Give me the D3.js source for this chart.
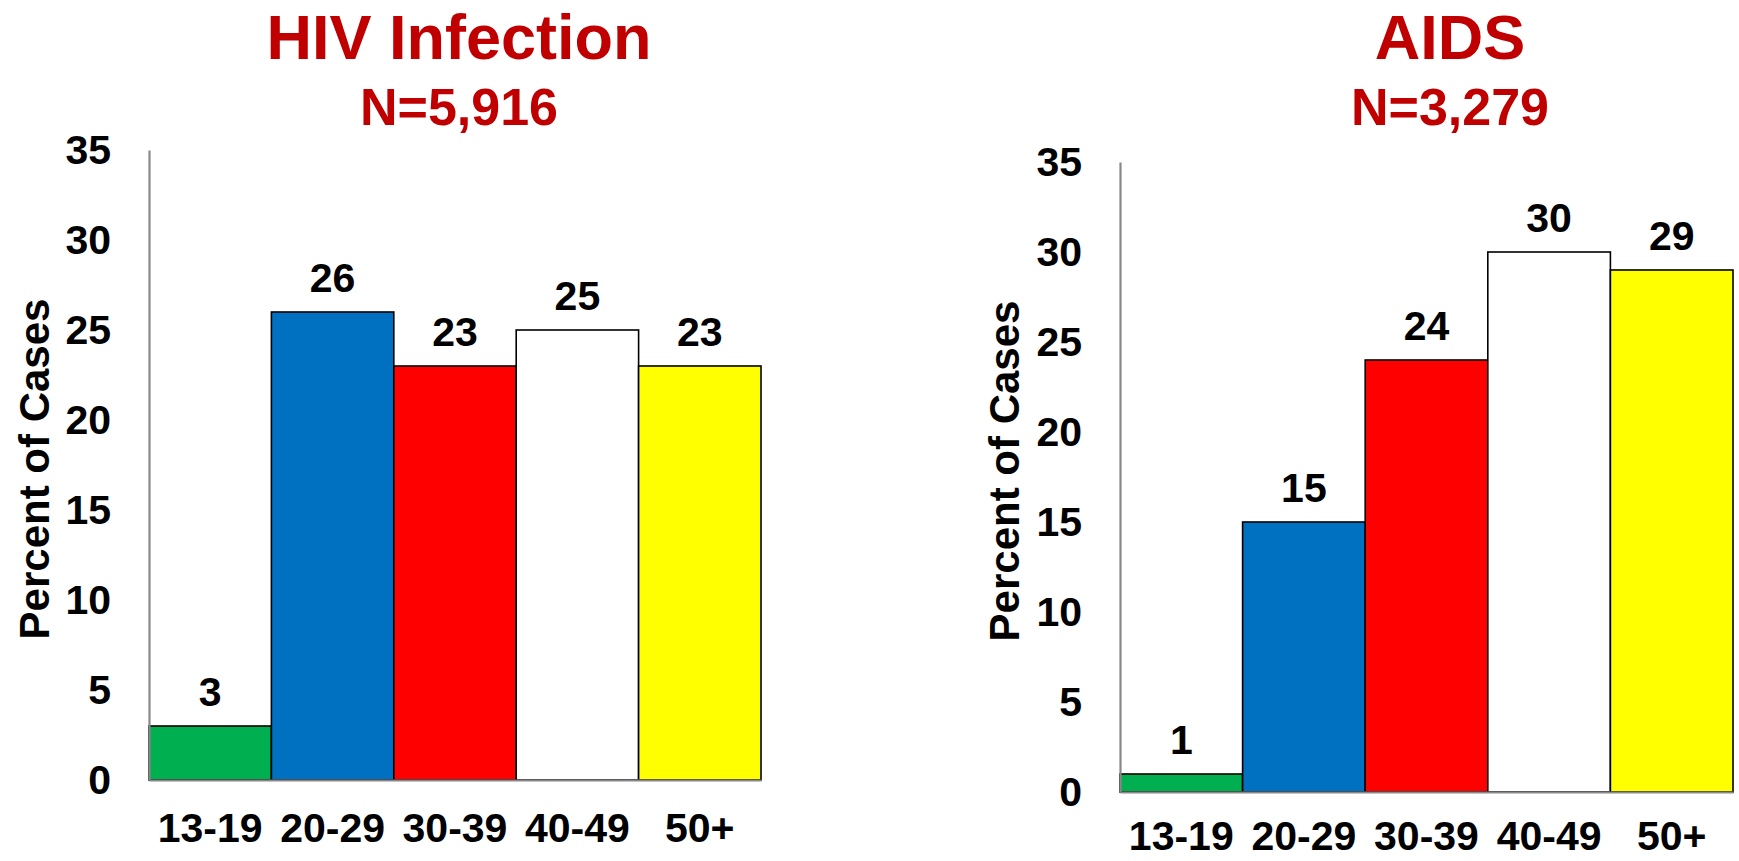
<!DOCTYPE html>
<html>
<head>
<meta charset="utf-8">
<script src="https://cdn.jsdelivr.net/npm/d3@7"></script>
<style>
  html, body { margin: 0; padding: 0; background: #fff; }
  svg { display: block; font-family: "Liberation Sans", Arial, Helvetica, sans-serif; }
</style>
</head>
<body>
<svg id="chart" width="1739" height="861"></svg>
<script>
// ---- data ----
const ageGroups = ["13-19", "20-29", "30-39", "40-49", "50+"];
const hivPercent = [3, 26, 23, 25, 23];
const aidsPercent = [1, 15, 24, 30, 29];
const barColors = ["#00B050", "#0070C0", "#FF0000", "#FFFFFF", "#FFFF00"];
const yTickValues = [0, 5, 10, 15, 20, 25, 30, 35];
const panelTitles = ["HIV Infection", "AIDS"];
const panelSubtitles = ["N=5,916", "N=3,279"];
const yAxisTitle = "Percent of Cases";

// ---- layout ----
const panels = [
  { values: hivPercent, title: panelTitles[0], sub: panelSubtitles[0],
    x0: 149, x1: 761, yTop: 150, yBase: 780, titleX: 459, yTitleX: 49, yTitleY: 469, xPad: 33 },
  { values: aidsPercent, title: panelTitles[1], sub: panelSubtitles[1],
    x0: 1120, x1: 1733, yTop: 162, yBase: 792, titleX: 1450, yTitleX: 1019, yTitleY: 471, xPad: 29 }
];

const svg = d3.select("#chart");
const titleColor = "#C00000";

panels.forEach(p => {
  const x = d3.scaleBand().domain(ageGroups).range([p.x0, p.x1]).paddingInner(0).paddingOuter(0);
  const y = d3.scaleLinear().domain([0, 35]).range([p.yBase, p.yTop]);
  const g = svg.append("g");
  const data = ageGroups.map((a, i) => ({ age: a, v: p.values[i], c: barColors[i] }));

  // bars
  g.selectAll("rect.bar").data(data).enter().append("rect")
    .attr("class", "bar")
    .attr("x", d => x(d.age))
    .attr("y", d => y(d.v))
    .attr("width", x.bandwidth())
    .attr("height", d => y(0) - y(d.v))
    .attr("fill", d => d.c)
    .attr("stroke", "#000")
    .attr("stroke-width", 1.6);

  // value labels
  g.selectAll("text.val").data(data).enter().append("text")
    .attr("class", "val")
    .attr("x", d => x(d.age) + x.bandwidth() / 2)
    .attr("y", d => y(d.v) - 20)
    .attr("text-anchor", "middle")
    .attr("font-size", 41)
    .attr("font-weight", "bold")
    .attr("fill", "#000")
    .text(d => d.v);

  // y axis
  const ya = g.append("g")
    .attr("transform", `translate(${p.x0},0)`)
    .call(d3.axisLeft(y).tickValues(yTickValues).tickSize(0).tickPadding(38));
  ya.select(".domain").attr("stroke", "#888").attr("stroke-width", 2.2);
  ya.selectAll("text").attr("font-size", 41).attr("font-weight", "bold")
    .attr("fill", "#000").attr("font-family", "Liberation Sans, Arial, sans-serif");

  // x axis
  const xa = g.append("g")
    .attr("transform", `translate(0,${p.yBase})`)
    .call(d3.axisBottom(x).tickSize(0).tickPadding(p.xPad));
  xa.select(".domain").attr("stroke", "#888").attr("stroke-width", 2.2);
  xa.selectAll("text").attr("font-size", 41).attr("font-weight", "bold")
    .attr("fill", "#000").attr("font-family", "Liberation Sans, Arial, sans-serif");

  // y axis title
  g.append("text")
    .attr("transform", `translate(${p.yTitleX},${p.yTitleY}) rotate(-90)`)
    .attr("text-anchor", "middle")
    .attr("font-size", 42)
    .attr("font-weight", "bold")
    .attr("fill", "#000")
    .text(yAxisTitle);

  // titles
  g.append("text")
    .attr("x", p.titleX).attr("y", 59)
    .attr("text-anchor", "middle")
    .attr("font-size", 63)
    .attr("font-weight", "bold")
    .attr("fill", titleColor)
    .text(p.title);
  g.append("text")
    .attr("x", p.titleX).attr("y", 125)
    .attr("text-anchor", "middle")
    .attr("font-size", 52)
    .attr("font-weight", "bold")
    .attr("fill", titleColor)
    .text(p.sub);
});
</script>
</body>
</html>
